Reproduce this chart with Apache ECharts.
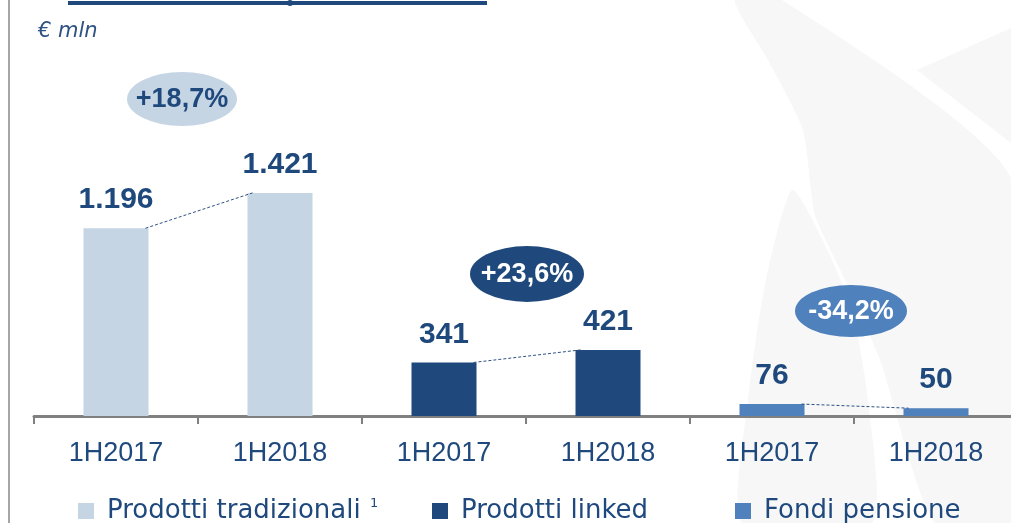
<!DOCTYPE html>
<html>
<head>
<meta charset="utf-8">
<script src="https://cdn.jsdelivr.net/npm/echarts@6/dist/echarts.min.js"></script>
<style>
html,body{margin:0;padding:0;background:#fff;}
#chart{width:1011px;height:523px;}
</style>
</head>
<body>
<div id="chart"></div>
<script>
// ---- data ----
const categories = ['1H2017', '1H2018', '1H2017', '1H2018', '1H2017', '1H2018'];
const seriesNames = ['Prodotti tradizionali', 'Prodotti linked', 'Fondi pensione'];
const tradizionali = [1196, 1421, null, null, null, null];
const linked = [null, null, 341, 421, null, null];
const pensione = [null, null, null, null, 76, 50];
const changeLabels = ['+18,7%', '+23,6%', '-34,2%'];
const unitLabel = '€ mln';

// ---- styles ----
const C_LIGHT = '#C6D5E4', C_DARK = '#1F497D', C_MID = '#4F81BD', C_TEXT = '#1F497D';
const BAR_W = 65;

function fmt(v) { return String(v).replace(/\B(?=(\d{3})+(?!\d))/g, '.'); }

// connector pairs built from the series arrays
const allSeries = [tradizionali, linked, pensione];
const connectors = allSeries.map(arr => {
  const idx = arr.map((v, i) => v == null ? -1 : i).filter(i => i >= 0);
  return [idx[0], arr[idx[0]], idx[1], arr[idx[1]]];
});

const chart = echarts.init(document.getElementById('chart'));

const barLabel = {
  show: true, position: 'top', distance: 13,
  color: C_TEXT, fontFamily: 'Liberation Sans', fontWeight: 'bold', fontSize: 30,
  formatter: p => fmt(p.value)
};

function bubble(cx, cy, rx, ry, fill, text, color) {
  return [
    { type: 'circle', x: cx, y: cy, scaleX: rx / ry, scaleY: 1, shape: { cx: 0, cy: 0, r: ry }, style: { fill: fill }, z: 10 },
    { type: 'text', x: cx, y: cy + 1, style: { text: text, fill: color, font: 'bold 27px "Liberation Sans"', textAlign: 'center', textVerticalAlign: 'middle' }, z: 11 }
  ];
}

const wm = '#f7f7f7';
const graphics = [
  { type: 'polygon', shape: { points: [[735,0],[782,0],[1011,178],[1011,523],[935,523],[880,360],[850,290],[815,215],[803,130],[768,60]], smooth: 0.2 }, style: { fill: wm }, z: -10 },
  { type: 'polygon', shape: { points: [[917,70],[1011,28],[1011,143]] }, style: { fill: wm }, z: -10 },
  { type: 'polygon', shape: { points: [[792,190],[825,245],[852,310],[868,400],[872,523],[742,523],[748,400],[765,285]], smooth: 0.2 }, style: { fill: wm }, z: -10 },
  { type: 'line', shape: { x1: 9, y1: 0, x2: 9, y2: 523 }, style: { stroke: '#a6a6a6', lineWidth: 2 } },
  { type: 'line', shape: { x1: 68, y1: 3, x2: 487, y2: 3 }, style: { stroke: C_DARK, lineWidth: 4 } },
  { type: 'circle', shape: { cx: 290, cy: 3, r: 3 }, style: { fill: C_DARK } },
  { type: 'text', x: 38, y: 32, style: { text: unitLabel, fill: '#2E5283', font: 'italic 21px "DejaVu Sans"', textVerticalAlign: 'middle' } },
  { type: 'text', x: 370, y: 497, style: { text: '1', fill: C_TEXT, font: '13px "DejaVu Sans"' } }
]
  .concat(bubble(182, 99, 55, 27, C_LIGHT, changeLabels[0], C_DARK))
  .concat(bubble(527, 274, 57, 28, C_DARK, changeLabels[1], '#ffffff'))
  .concat(bubble(851, 311, 56, 26, C_MID, changeLabels[2], '#ffffff'));

function legendAt(left, name) {
  return {
    data: [name], left: left, top: 493, icon: 'rect', itemWidth: 16, itemHeight: 16,
    selectedMode: false,
    textStyle: { color: C_TEXT, fontFamily: 'DejaVu Sans', fontSize: 26, padding: [0, 0, 0, 8] }
  };
}

chart.setOption({
  animation: false,
  backgroundColor: '#ffffff',
  grid: { left: 34, width: 984, top: 102, bottom: 107, containLabel: false, outerBoundsMode: 'none' },
  legend: [legendAt(73, seriesNames[0]), legendAt(427, seriesNames[1]), legendAt(730, seriesNames[2])],
  xAxis: {
    type: 'category', data: categories,
    axisLine: { lineStyle: { color: '#808080', width: 3 } },
    axisTick: { show: true, length: 8, lineStyle: { color: '#808080', width: 2 } },
    axisLabel: { color: C_TEXT, fontFamily: 'Liberation Sans', fontSize: 27, margin: 24 }
  },
  yAxis: { type: 'value', min: 0, max: 2000, show: false, splitLine: { show: false } },
  series: [
    { name: seriesNames[0], type: 'bar', stack: 's', barWidth: BAR_W, data: tradizionali, itemStyle: { color: C_LIGHT }, label: barLabel },
    { name: seriesNames[1], type: 'bar', stack: 's', barWidth: BAR_W, data: linked, itemStyle: { color: C_DARK }, label: barLabel },
    { name: seriesNames[2], type: 'bar', stack: 's', barWidth: BAR_W, data: pensione, itemStyle: { color: C_MID }, label: barLabel },
    {
      type: 'custom', data: connectors, encode: { x: [0, 2], y: [1, 3] }, z: 5, silent: true,
      renderItem: function (params, api) {
        const p0 = api.coord([api.value(0), api.value(1)]);
        const p1 = api.coord([api.value(2), api.value(3)]);
        return {
          type: 'line',
          shape: { x1: p0[0] + BAR_W / 2 - 3, y1: p0[1], x2: p1[0] - BAR_W / 2 + 5, y2: p1[1] },
          style: { stroke: '#2E5283', lineWidth: 1, lineDash: [3, 2] }
        };
      }
    }
  ],
  graphic: graphics
});
</script>
</body>
</html>
